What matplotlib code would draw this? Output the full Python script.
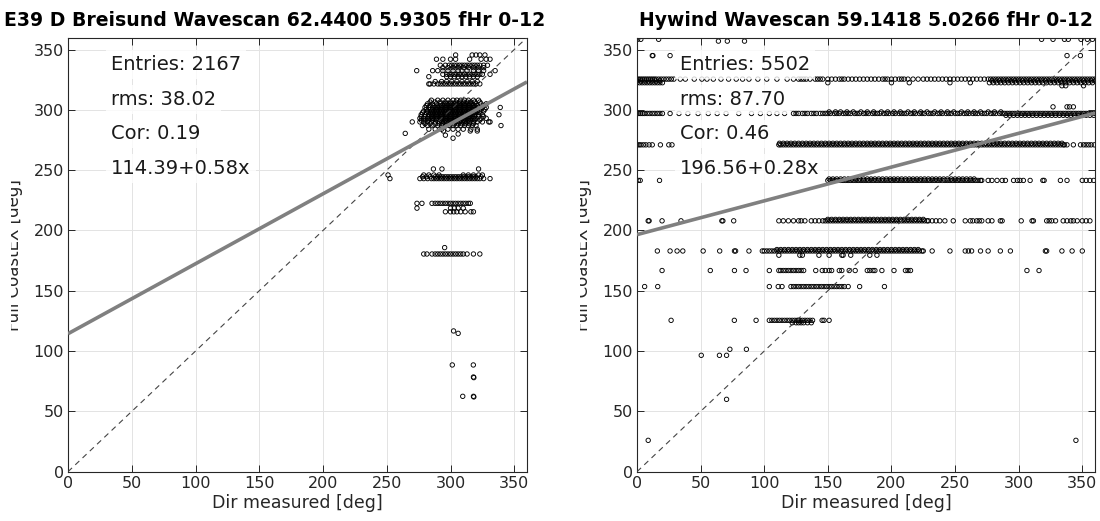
import matplotlib
matplotlib.use("Agg")
import matplotlib.pyplot as plt
from matplotlib.transforms import Bbox, TransformedBbox
import numpy as np

# ---------------- text / stats ----------------
titles = ["E39 D Breisund Wavescan 62.4400 5.9305 fHr 0-12",
          "Hywind Wavescan 59.1418 5.0266 fHr 0-12"]
xlabel_txt = "Dir measured [deg]"
ylabel_txt = "Full CoastEX [deg]"
entries = [2167, 5502]
rms_vals = [38.02, 87.70]
cor_vals = [0.19, 0.46]
intercepts = [114.39, 196.56]
slopes = [0.58, 0.28]
ticks = [0, 50, 100, 150, 200, 250, 300, 350]

# ---------------- E39 D Breisund (left) ----------------
e39_levels = [345.5, 342, 337, 335, 332.5, 329.5, 327.5, 323.5, 321.5,
              308, 306.5, 305, 303.5, 302, 300.5, 299, 297.5, 296, 294.5, 293, 291.5, 290, 288.5, 287, 284,
              251, 246, 244.5, 243, 222.5, 218.5, 215.5, 180.5]
e39_x345 = [304, 317, 320, 323, 327]
e39_x342 = [289, 294, 300, 304, 315, 324, 328, 331]
e39_x337 = [292, 296, 299, 301, 303, 305, 307, 309, 311, 313, 315, 317, 319, 321, 323, 326, 329]
e39_x335 = [294, 298, 302, 306, 310, 314, 318, 322, 326]
e39_x332 = [273.5, 286, 290, 294, 298, 302, 306, 309, 313, 318, 322, 326, 335]
e39_x329 = [294, 297, 299, 301, 303, 305, 307, 309, 311, 313, 315, 317, 319, 321, 323, 325, 331]
e39_x327 = [283, 297, 300, 303, 306, 309, 312, 315, 318, 321]
e39_x323 = [288, 293, 297, 301, 305, 309, 313, 317, 321]
e39_x321 = [283, 284, 287, 290, 292, 294, 296, 298, 300, 302, 304, 306, 308, 310, 312, 314, 316, 318, 320, 323]
e39_x308 = [285, 290, 294, 298, 302, 305, 308, 311, 314, 318, 322]
e39_x306 = [284, 288, 292, 296, 300, 304, 307, 310, 313, 316, 319, 323]
e39_x305 = [282, 286, 289, 292, 295, 297, 299, 301, 303, 305, 307, 309, 311, 313, 315, 317, 320, 324, 328]
e39_x303 = [281, 284, 287, 291, 293, 295, 297, 299, 301, 303, 305, 307, 309, 311, 313, 315, 317, 319, 321, 326]
e39_x302 = [280, 283, 286, 288, 290, 292, 294, 296, 298, 300, 302, 304, 306, 308, 310, 312, 314, 316, 318, 320, 322, 325, 328, 339]
e39_x300 = [281, 284, 286, 288, 290, 292, 294, 296, 298, 300, 302, 304, 306, 308, 310, 312, 314, 316, 318, 320, 324, 327]
e39_x299 = [279, 282, 285, 287, 289, 291, 293, 295, 297, 299, 301, 303, 305, 307, 309, 311, 313, 315, 317, 319, 321, 323, 326]
e39_x297 = [278, 281, 284, 286, 288, 290, 292, 294, 296, 298, 300, 302, 304, 306, 308, 310, 312, 314, 316, 318, 320, 323]
e39_x296 = [277, 280, 283, 285, 287, 289, 291, 293, 295, 297, 299, 301, 303, 305, 307, 309, 311, 313, 315, 317, 319, 322, 325, 338]
e39_x294 = [277, 280, 283, 285, 287, 289, 291, 293, 295, 297, 299, 301, 303, 305, 307, 309, 311, 313, 315, 317, 319, 322, 326]
e39_x293 = [276, 279, 282, 284, 286, 288, 290, 292, 294, 296, 298, 300, 302, 304, 306, 308, 310, 312, 314, 316, 318, 320, 324, 328]
e39_x291 = [277, 280, 283, 286, 289, 292, 294, 296, 298, 300, 302, 304, 306, 308, 310, 312, 314, 316, 319, 323]
e39_x290 = [270, 276, 279, 282, 285, 288, 291, 293, 295, 297, 299, 301, 303, 305, 307, 309, 311, 313, 315, 318, 321, 325, 330, 331]
e39_x288 = [280, 284, 288, 291, 294, 297, 300, 303, 306, 309, 312, 315, 318]
e39_x287 = [278, 282, 286, 290, 293, 296, 299, 302, 305, 308, 311, 314, 317, 320, 339.6]
e39_x284 = [283, 288, 293, 298, 302, 306, 310, 316, 321]
e39_x251 = [286.6, 293.3, 322]
e39_x246 = [251, 279, 283, 287, 291, 310, 314, 318, 322, 325]
e39_x244 = [278, 281, 284, 288, 290, 292, 294, 296, 298, 300, 302, 304, 306, 308, 310, 312, 314, 316, 318, 320, 324]
e39_x243 = [252.5, 276, 279, 282, 285, 287, 289, 291, 293, 295, 297, 299, 301, 303, 305, 307,
            309, 311, 313, 315, 317, 319, 321, 323, 326, 331]
e39_x222 = [273.7, 277.6, 285.5, 288, 290, 292, 294, 296, 298, 300, 302, 304, 306, 308, 310, 312, 314, 315.5]
e39_x218 = [273.7, 300, 303, 306, 310]
e39_x215 = [296, 300, 302.5, 305, 308, 311.5, 316, 318]
e39_x180 = [279, 281.5, 285.5, 288, 290, 292, 294, 296, 298, 300, 302, 304, 306, 308, 310, 313, 318, 323]
e39_extra_x = [264.5, 296, 302, 306, 315.5, 321, 294.5, 295.4, 302.4, 306, 301.4, 317.9, 318, 318.3, 309.6, 318, 318.3]
e39_extra_y = [280.5, 279, 276.5, 280, 282.5, 282.5, 282.5, 185.8, 116.7, 114.7, 88.5, 88.5, 78.5, 78, 62.5, 62.5, 62]
e39_bands = [e39_x345, e39_x342, e39_x337, e39_x335, e39_x332, e39_x329, e39_x327, e39_x323, e39_x321,
             e39_x308, e39_x306, e39_x305, e39_x303, e39_x302, e39_x300, e39_x299, e39_x297, e39_x296,
             e39_x294, e39_x293, e39_x291, e39_x290, e39_x288, e39_x287, e39_x284,
             e39_x251, e39_x246, e39_x244, e39_x243, e39_x222, e39_x218, e39_x215, e39_x180]

# ---------------- Hywind (right) ----------------
hy_levels = [358.5, 357, 345, 325.5, 324, 322.5, 320, 302.5, 298.3, 297, 295.5, 272.3, 271,
             242.7, 241.5, 209.2, 208, 184.2, 183, 179.5, 166.8, 153.5, 125.5, 123.5]
hy_x358 = [0.5, 3, 17, 318, 327, 336, 339, 349, 354, 358]
hy_x357 = [64, 71, 84.5]
hy_x345 = [12, 12.5, 26, 338, 348.5]
hy_x325 = [0, 1.5, 3, 4.5, 6, 7.5, 9, 10.5, 12, 13.5, 15, 17, 19, 21, 23, 25, 27, 29,
           34, 38, 45, 51, 55, 60, 66, 72, 78, 83, 88, 95, 102, 110, 118, 123,
           127, 129, 131, 133, 136, 140, 142, 144, 146, 150, 153, 156, 159, 161, 163, 166, 169, 172, 175, 178, 181,
           184, 187, 190, 193, 195, 197, 200, 203, 206, 208, 210, 213, 217, 221, 225, 228, 231, 234, 237, 240,
           243, 246, 249, 252, 255, 258, 261, 264, 267, 270, 273,
           276, 278, 280, 282, 284, 286, 288, 290, 292, 294, 296, 298, 300, 302, 304, 306, 308, 310, 312, 314,
           316, 318, 320, 322, 324, 326, 328, 330, 332, 334, 336, 338, 340, 342, 344, 346, 348, 350, 352, 354,
           356, 358, 360]
hy_x324 = [0, 3, 6, 9, 12, 15, 18, 279, 282, 285, 288, 291, 294, 297, 300, 303, 306, 309, 312, 315, 318,
           321, 324, 327, 330, 333, 336, 339, 342, 345, 348, 351, 354, 357, 360]
hy_x322 = [0, 2, 4, 6, 8, 10, 12, 14, 16, 18, 20, 150, 200, 214, 246, 262,
           277, 280, 283, 286, 289, 292, 295, 298, 301, 304, 307, 310, 313, 316, 319, 322, 325, 328, 331,
           334, 337, 340, 343, 346, 349, 352, 355, 358]
hy_x320 = [334, 337, 351]
hy_x302 = [327, 338, 340, 343]
hy_x298 = [151, 156, 160, 165, 170, 176, 181, 186, 192, 197, 202, 207, 213, 218, 223, 228, 234, 239,
           244, 249, 255, 260, 265, 270, 276, 281, 286]
hy_x297 = [0, 1.5, 3, 4.5, 6, 8, 10, 12, 14, 16, 18, 20, 26,
           33, 40, 48, 56, 63, 70, 80, 90, 97, 104, 110, 116,
           123, 125, 127, 130, 132, 134, 137, 139, 141, 144, 146, 148, 150, 152, 155, 157, 159, 162, 164, 166,
           168, 171, 173, 175, 178, 180, 182, 185, 187, 189, 191, 194, 196, 198, 201, 203, 206, 208, 210, 212,
           215, 217, 219, 222, 224, 226, 229, 231, 233, 236, 238, 240, 243, 245, 247, 250, 252, 254, 257, 259,
           261, 264, 266, 268, 271, 273, 275, 278, 280, 282, 285, 287, 289, 291, 293, 295, 297, 299, 301, 303,
           305, 307, 309, 311, 313, 315, 317, 319, 321, 323, 325, 327, 329, 331, 333, 335, 337, 339, 341, 343,
           345, 347, 349, 351, 353, 355, 357, 359]
hy_x295 = [290, 293, 296, 299, 302, 305, 308, 311, 314, 317, 320, 323, 326, 329, 332, 335, 338, 341,
           344, 347, 350, 353, 356, 359]
hy_x272 = [112, 115, 118, 121, 124, 127, 130, 133, 136, 139, 142, 145, 148, 151, 154, 157, 160, 163, 166,
           169, 172, 175, 178, 181, 184, 187, 190, 193, 196, 199, 202, 205, 208, 211, 214, 217, 220, 223, 226,
           229, 232, 235, 238, 241, 244, 247, 250, 253, 256, 259, 262, 265, 268, 271, 274, 277, 280, 283, 286,
           289, 292, 295, 298, 301, 304, 307, 310, 313, 316, 319, 322, 325, 328, 331, 334]
hy_x271 = [0, 1.5, 3, 5, 7, 9.5, 12, 18.4, 25, 27.5,
           111.5, 113, 115, 117, 119, 121, 123, 125, 127, 129, 131, 133, 135, 137, 139, 141, 143, 145, 147,
           149, 151, 153, 155, 157, 159, 161, 163, 165, 167, 169, 171, 173, 175, 177, 179, 181, 183, 185, 187,
           189, 191, 193, 195, 197, 199, 201, 203, 205, 207, 209, 211, 213, 215, 217, 219, 221, 223, 225, 227,
           229, 231, 233, 235, 237, 239, 241, 243, 245, 247, 249, 251, 253, 255, 257, 259, 261, 263, 265, 267,
           269, 271, 273, 275, 277, 279, 281, 283, 285, 287, 289, 291, 293, 295, 297, 299, 301, 303, 305, 307,
           309, 311, 313, 315, 317, 319, 321, 323, 325, 327, 329, 331, 333, 335, 336,
           338, 343, 348.6, 351, 353, 355, 357, 359.5]
hy_x242 = [151, 154, 157, 160, 163, 166, 169, 172, 175, 178, 181, 184, 187, 190, 193, 196, 199, 202, 205,
           208, 211, 214, 217, 220, 223, 226, 229, 232, 235, 238, 241, 244, 247, 250, 253, 256, 259, 262, 265]
hy_x241 = [1, 2.5, 17.7,
           150, 152, 154, 156, 158, 160, 162, 164, 166, 168, 170, 172, 174, 176, 178, 180, 182, 184, 186, 188,
           190, 192, 194, 196, 198, 200, 202, 204, 206, 208, 210, 212, 214, 216, 218, 220, 222, 224, 226, 228,
           230, 232, 234, 236, 238, 240, 242, 244, 246, 248, 250, 252, 254, 256, 258, 260, 262, 264, 266, 268,
           270, 271,
           276, 279, 283, 287, 289.6, 296, 299, 301, 303.7, 309, 319, 320, 332.8, 338, 350, 353, 356, 359]
hy_x209 = [150, 153, 156, 159, 162, 165, 168, 171, 174, 177, 180, 183, 186, 189, 192, 195, 198, 201, 204,
           207, 210, 213, 216, 219, 222, 225]
hy_x208 = [8.8, 9.5, 19.7, 34.6, 66.7, 67.5, 76, 111.5, 115, 119, 123, 127, 129, 132, 137,
           140, 143, 146, 148, 150, 152, 154, 156, 158, 160, 162, 164, 166, 168, 170, 172, 174, 176, 178, 180,
           182, 184, 186, 188, 190, 192, 194, 196, 198, 200, 202, 204, 206, 208, 210, 212, 214, 216, 218, 220,
           222, 224, 226, 228, 229,
           232, 235, 238, 242, 248.6, 258, 262, 264, 267, 269, 271, 276, 279, 285.6, 287, 302, 310.5, 311.6,
           322, 324, 326, 329, 335, 338, 341, 343, 346, 350, 353, 356]
hy_x184 = [110, 113, 116, 119, 122, 125, 128, 131, 134, 137, 140, 143, 146, 149, 152, 155, 158, 161, 164,
           167, 170, 173, 176, 179, 182, 185, 188, 191, 194, 197, 200, 203, 206, 209, 212, 215, 218, 221]
hy_x183 = [16, 26, 31.5, 36, 52, 65, 76.6, 77.5, 88,
           98.5, 100, 102, 104, 106, 108, 110, 112, 114, 116, 118, 120, 122, 124, 126, 128, 130, 132, 134, 136,
           138, 140, 142, 144, 146, 148, 150, 152, 154, 156, 158, 160, 162, 164, 166, 168, 170, 172, 174, 176,
           178, 180, 182, 184, 186, 188, 190, 192, 194, 196, 198, 200, 202, 204, 206, 208, 210, 212, 214, 216,
           218, 220, 222, 224, 225,
           232, 246, 258, 260.5, 263, 270, 276, 285.6, 293.5, 321, 322, 334, 342, 350]
hy_x179 = [111.5, 128, 130, 143, 151, 161, 162, 168, 183, 188.6]
hy_x167 = [19.7, 57.6, 76.6, 85.7, 104, 111.5, 113, 115, 117, 119, 121, 123, 125, 127, 129, 131,
           140.5, 145.6, 148, 151, 153, 159, 161, 166.8, 171.5, 181, 183, 185.5, 187, 192.5, 202, 211, 213, 215,
           306.5, 316]
hy_x153 = [6, 16.3, 104, 111, 114, 121, 123, 125, 127, 129, 131, 133, 135, 137, 139, 141, 143, 145, 147,
           149, 151, 153, 155, 157, 159, 161, 163, 166, 175, 194.5]
hy_x125 = [26.8, 76.5, 93.6, 104, 106, 108, 110, 112, 114, 116, 118, 120, 122, 124, 126, 127, 128, 130,
           132, 134, 136, 138, 145.5, 147, 151]
hy_x123 = [122, 125, 127, 129, 131, 134, 137]
hy_extra_x = [73, 86, 50.5, 64.8, 70.4, 70.4, 8.8, 345]
hy_extra_y = [101.5, 101.5, 96.5, 96.5, 96.5, 60, 26, 26]
hy_bands = [hy_x358, hy_x357, hy_x345, hy_x325, hy_x324, hy_x322, hy_x320, hy_x302, hy_x298, hy_x297,
            hy_x295, hy_x272, hy_x271, hy_x242, hy_x241, hy_x209, hy_x208, hy_x184, hy_x183, hy_x179,
            hy_x167, hy_x153, hy_x125, hy_x123]


def collect(levels, bands, ex, ey):
    xs, ys = [], []
    for lev, xl in zip(levels, bands):
        xs.extend(xl)
        ys.extend([lev] * len(xl))
    xs.extend(ex)
    ys.extend(ey)
    return np.array(xs, float), np.array(ys, float)


data = [collect(e39_levels, e39_bands, e39_extra_x, e39_extra_y),
        collect(hy_levels, hy_bands, hy_extra_x, hy_extra_y)]

W, H = 1100, 521
fig = plt.figure(figsize=(W / 100, H / 100), dpi=100)
fig.patch.set_facecolor("white")

ax_left_px = [68, 637]
ax_right_px = [527, 1095]
ax_top_px, ax_bot_px = 37.5, 471.7
title_x_px = [545, 866]
title_ha = ["right", "center"]

dark = "#262626"
for i in range(2):
    l, r = ax_left_px[i], ax_right_px[i]
    ax = fig.add_axes([l / W, 1 - ax_bot_px / H, (r - l) / W, (ax_bot_px - ax_top_px) / H])
    xs, ys = data[i]
    ax.scatter(xs, ys, s=10, facecolors="none", edgecolors="black", linewidths=0.65, zorder=2)
    ax.plot([0, 360], [0, 360], ls=(0, (5, 4)), color="#444444", lw=0.8, zorder=3)
    xx = np.array([0, 360])
    ax.plot(xx, intercepts[i] + slopes[i] * xx, color="#808080", lw=2.6, zorder=4,
            solid_capstyle="butt")
    ax.set_xlim(0, 360)
    ax.set_ylim(0, 360)
    ax.set_xticks(ticks)
    ax.set_yticks(ticks)
    ax.grid(True, color="#e3e3e3", lw=0.7)
    ax.set_axisbelow(True)
    ax.tick_params(direction="in", top=True, right=True, length=5, width=0.7,
                   colors=dark, labelsize=11.5, pad=3)
    for sp in ax.spines.values():
        sp.set_color(dark)
        sp.set_linewidth(0.8)
    ax.set_xlabel(xlabel_txt, fontsize=12.5, color=dark, labelpad=2)
    ax.set_ylabel(ylabel_txt, fontsize=12, color=dark)
    wpx = r - l
    ax.yaxis.set_label_coords(-45 / wpx, 0.5)
    lab = ax.yaxis.label
    lab.set_clip_on(True)
    lab.set_clip_box(TransformedBbox(Bbox.from_extents((l - 57) / W, 0, 1, 1), fig.transFigure))

    lines = [f"Entries: {entries[i]}", f"rms: {rms_vals[i]:.2f}", f"Cor: {cor_vals[i]:.2f}",
             f"{intercepts[i]:.2f}+{slopes[i]:.2f}x"]
    ypos = [0.938, 0.858, 0.778, 0.698]
    for t, yp in zip(lines, ypos):
        ax.text(0.094, yp, t, transform=ax.transAxes, fontsize=14, color="#1a1a1a",
                ha="left", va="center", zorder=6,
                bbox=dict(facecolor="white", edgecolor="none", alpha=0.82,
                          boxstyle="square,pad=0.25"))

    fig.text(title_x_px[i] / W, 1 - 21 / H, titles[i], ha=title_ha[i], va="center",
             fontsize=13.6 if i == 0 else 13.5, fontweight="bold", color="black")

fig.savefig("out.png", dpi=100)
